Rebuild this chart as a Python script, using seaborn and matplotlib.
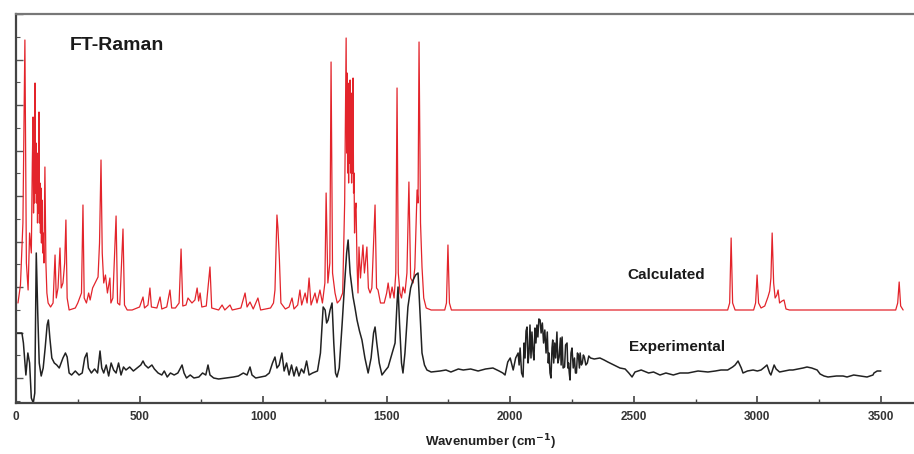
import numpy as np
import pandas as pd
import matplotlib
matplotlib.use("Agg")
import matplotlib.pyplot as plt
import matplotlib.ticker as ticker
import seaborn as sns

# espectro calculado: pares (cm-1, intensidade arbitraria)
calc_pts = [
    (8, 100), (18, 118), (28, 180), (36, 363), (42, 140), (49, 113), (55, 170), (62, 150),
    (66, 240), (69, 286), (71, 190), (73, 250), (75, 200), (77, 320), (79, 210), (81, 260),
    (83, 200), (85, 250), (87, 180), (89, 230), (91, 190), (93, 291), (95, 180), (97, 220),
    (99, 170), (101, 215), (103, 160), (105, 203), (108, 150), (110, 170), (113, 140),
    (117, 236), (121, 140), (125, 110), (130, 100), (140, 96), (150, 100), (158, 148),
    (163, 105), (170, 115), (178, 155), (183, 115), (190, 120), (197, 140), (202, 183),
    (207, 105), (215, 93), (240, 95), (250, 100), (265, 110), (271, 198), (276, 105),
    (285, 100), (294, 110), (300, 103), (310, 115), (320, 120), (332, 126), (338, 160),
    (344, 243), (349, 150), (355, 120), (362, 128), (370, 110), (380, 125), (384, 100),
    (392, 105), (405, 187), (411, 100), (420, 98), (433, 174), (439, 98), (450, 93),
    (470, 93), (490, 95), (500, 96), (514, 106), (520, 95), (534, 98), (542, 115), (548, 96),
    (570, 95), (583, 106), (590, 94), (610, 96), (623, 113), (630, 95), (645, 95), (660, 100),
    (668, 154), (675, 97), (688, 98), (696, 105), (712, 100), (724, 103), (733, 115),
    (739, 102), (745, 110), (752, 96), (770, 97), (785, 136), (792, 95), (820, 93), (834, 98),
    (845, 93), (866, 98), (875, 93), (910, 95), (927, 110), (935, 96), (947, 101), (960, 94),
    (979, 105), (990, 93), (1030, 95), (1042, 100), (1048, 113), (1056, 188), (1060, 175),
    (1066, 143), (1072, 100), (1090, 94), (1105, 96), (1117, 105), (1125, 94), (1140, 98),
    (1149, 113), (1156, 98), (1170, 110), (1178, 100), (1186, 125), (1194, 98), (1210, 110),
    (1218, 100), (1230, 113), (1240, 100), (1250, 120), (1255, 210), (1262, 120), (1270, 140),
    (1275, 341), (1281, 130), (1291, 110), (1300, 100), (1311, 103), (1322, 110), (1330, 200),
    (1336, 365), (1338, 250), (1340, 330), (1342, 230), (1344, 293), (1346, 220), (1348, 320),
    (1350, 240), (1352, 323), (1354, 230), (1356, 310), (1358, 220), (1360, 300), (1362, 230),
    (1364, 325), (1366, 210), (1368, 230), (1370, 170), (1372, 190), (1376, 200), (1380, 140),
    (1384, 110), (1388, 156), (1394, 125), (1404, 158), (1410, 130), (1420, 156), (1426, 115),
    (1433, 110), (1440, 115), (1453, 198), (1459, 115), (1465, 113), (1475, 100), (1490, 100),
    (1500, 110), (1506, 120), (1514, 105), (1522, 116), (1530, 105), (1537, 130), (1542, 315),
    (1547, 130), (1554, 110), (1560, 105), (1566, 116), (1574, 110), (1582, 130), (1590, 221),
    (1597, 125), (1607, 120), (1614, 135), (1619, 180), (1623, 213), (1627, 200), (1631, 361),
    (1637, 180), (1643, 136), (1650, 105), (1660, 95), (1680, 93), (1735, 93), (1742, 100),
    (1748, 158), (1754, 100), (1762, 93), (2880, 93), (2888, 100), (2894, 165), (2900, 100),
    (2910, 93), (2985, 93), (2993, 100), (2999, 128), (3005, 100), (3015, 95), (3030, 97),
    (3043, 106), (3050, 112), (3055, 125), (3060, 170), (3066, 120), (3072, 105), (3079, 108),
    (3084, 113), (3090, 100), (3100, 102), (3108, 103), (3116, 94), (3130, 93), (3560, 93),
    (3568, 100), (3574, 121), (3580, 97), (3590, 93),
]

# espectro experimental
exp_pts = [
    (0, 70), (24, 70), (30, 60), (40, 28), (48, 50), (55, 40), (62, 5), (70, 0), (76, 10),
    (82, 150), (88, 90), (94, 40), (102, 27), (110, 35), (118, 55), (126, 78), (131, 83),
    (137, 65), (145, 45), (155, 40), (165, 38), (175, 35), (190, 45), (200, 50), (207, 46),
    (215, 30), (225, 28), (240, 32), (255, 28), (268, 30), (278, 45), (287, 50), (293, 35),
    (305, 30), (318, 34), (330, 30), (340, 52), (347, 35), (355, 30), (365, 38), (375, 27),
    (385, 40), (395, 33), (405, 30), (415, 40), (425, 28), (435, 36), (445, 33), (460, 36),
    (475, 32), (490, 35), (505, 38), (514, 42), (522, 38), (535, 35), (550, 38), (560, 34),
    (575, 30), (590, 28), (600, 32), (612, 26), (625, 30), (640, 28), (655, 30), (672, 38),
    (680, 30), (690, 25), (705, 28), (720, 25), (740, 26), (755, 30), (768, 28), (777, 38),
    (785, 28), (800, 25), (820, 24), (850, 25), (880, 26), (900, 27), (920, 30), (935, 28),
    (947, 36), (955, 28), (970, 25), (990, 26), (1010, 27), (1025, 30), (1038, 40), (1048, 46),
    (1056, 35), (1065, 38), (1076, 50), (1085, 32), (1095, 40), (1105, 28), (1115, 38),
    (1125, 27), (1135, 36), (1145, 27), (1155, 34), (1165, 30), (1176, 42), (1186, 28),
    (1200, 30), (1220, 32), (1232, 50), (1243, 96), (1251, 93), (1257, 80), (1263, 83),
    (1271, 93), (1279, 100), (1286, 60), (1293, 30), (1299, 26), (1308, 35), (1320, 80),
    (1330, 120), (1338, 150), (1344, 163), (1352, 130), (1364, 106), (1372, 95), (1380, 83),
    (1390, 72), (1400, 63), (1412, 45), (1425, 30), (1437, 45), (1447, 70), (1453, 76),
    (1460, 60), (1470, 40), (1481, 28), (1493, 32), (1506, 36), (1520, 48), (1534, 60),
    (1542, 100), (1546, 116), (1552, 80), (1560, 40), (1566, 30), (1574, 50), (1586, 96),
    (1597, 115), (1607, 123), (1617, 128), (1627, 130), (1635, 90), (1643, 50), (1653, 38),
    (1663, 33), (1680, 31), (1716, 32), (1740, 33), (1760, 31), (1790, 34), (1810, 33),
    (1840, 34), (1870, 32), (1900, 34), (1930, 35), (1955, 32), (1970, 30), (1979, 28),
    (1990, 41), (2000, 45), (2012, 33), (2022, 45), (2032, 50), (2036, 38), (2040, 55),
    (2046, 30), (2052, 26), (2056, 60), (2060, 45), (2064, 72), (2068, 76), (2072, 40),
    (2076, 50), (2080, 78), (2084, 45), (2088, 71), (2092, 52), (2096, 43), (2100, 75),
    (2104, 60), (2108, 78), (2112, 66), (2116, 84), (2121, 83), (2125, 70), (2130, 80),
    (2135, 60), (2140, 73), (2145, 50), (2150, 71), (2154, 40), (2157, 50), (2161, 30),
    (2165, 25), (2169, 55), (2172, 63), (2176, 40), (2180, 60), (2184, 45), (2189, 71),
    (2193, 40), (2198, 46), (2203, 65), (2206, 38), (2210, 66), (2214, 35), (2220, 36),
    (2224, 58), (2230, 60), (2233, 35), (2236, 40), (2239, 30), (2242, 23), (2246, 50),
    (2250, 55), (2255, 35), (2260, 45), (2264, 30), (2268, 30), (2272, 50), (2276, 48),
    (2280, 35), (2283, 50), (2288, 38), (2292, 40), (2296, 48), (2300, 46), (2306, 38),
    (2312, 40), (2318, 47), (2325, 45), (2340, 44), (2363, 45), (2380, 43), (2395, 41),
    (2420, 38), (2444, 35), (2465, 34), (2480, 30), (2493, 26), (2505, 31), (2530, 33),
    (2560, 30), (2580, 31), (2606, 28), (2630, 30), (2660, 28), (2687, 30), (2720, 30),
    (2760, 32), (2800, 31), (2830, 32), (2853, 33), (2880, 33), (2900, 36), (2910, 38),
    (2922, 42), (2935, 35), (2942, 30), (2960, 32), (2983, 33), (3000, 32), (3015, 33),
    (3030, 36), (3039, 38), (3050, 30), (3055, 28), (3068, 38), (3076, 34), (3090, 31),
    (3110, 32), (3130, 33), (3144, 33), (3165, 34), (3185, 35), (3201, 36), (3220, 35),
    (3242, 33), (3254, 29), (3270, 27), (3286, 26), (3320, 27), (3347, 27), (3363, 26),
    (3390, 28), (3416, 27), (3444, 26), (3468, 28), (3472, 30), (3485, 32), (3500, 32),
]

x_ticks = [0, 500, 1000, 1500, 2000, 2500, 3000, 3500]

df_calc = pd.DataFrame(calc_pts, columns=["wn", "intensidade"])
df_exp = pd.DataFrame(exp_pts, columns=["wn", "intensidade"])

sns.set_theme(style="ticks")
plt.rcParams["font.family"] = ["Liberation Sans", "DejaVu Sans"]

fig = plt.figure(figsize=(9.14, 4.54), dpi=100)
ax = fig.add_axes([16 / 914, 51 / 454, 898 / 914, 389 / 454])

sns.lineplot(data=df_calc, x="wn", y="intensidade", ax=ax, color="#e3242b",
             linewidth=0.9, estimator=None, sort=False)
sns.lineplot(data=df_exp, x="wn", y="intensidade", ax=ax, color="#222222",
             linewidth=1.1, estimator=None, sort=False)

ax.set_xlim(0, 3634)
ax.set_ylim(0, 389)

# eixos no estilo origin: ticks pra dentro, sem rotulo no y
ax.xaxis.set_major_locator(ticker.FixedLocator(x_ticks))
ax.xaxis.set_minor_locator(ticker.MultipleLocator(250))
ax.yaxis.set_major_locator(ticker.MultipleLocator(45.5, offset=25))
ax.yaxis.set_minor_locator(ticker.MultipleLocator(45.5, offset=2.25))
ax.tick_params(axis="x", which="major", direction="in", length=5, width=1.2,
               colors="#444444", labelsize=8.5, pad=6)
ax.tick_params(axis="x", which="minor", direction="in", length=3, width=1, colors="#444444")
ax.tick_params(axis="y", which="major", direction="in", length=5, width=1, colors="#555555",
               labelleft=False)
ax.tick_params(axis="y", which="minor", direction="in", length=3, width=0.8, colors="#555555")
for lbl in ax.get_xticklabels():
    lbl.set_fontweight("bold")
    lbl.set_color("#333333")

for lado in ["left", "bottom", "top"]:
    ax.spines[lado].set_linewidth(1.6)
    ax.spines[lado].set_color("#444444")
ax.spines["top"].set_color("#777777")
ax.spines["right"].set_visible(False)

ax.set_ylabel("")
ax.set_xlabel("Wavenumber (cm$^{\\mathbf{-1}}$)", fontsize=9.5, fontweight="bold", color="#222222")
ax.xaxis.set_label_coords((490 - 16) / 898, -0.075)

ax.text(219, 358, "FT-Raman", fontsize=14, fontweight="bold", color="#1a1a1a", va="center")
ax.text(2473, 128, "Calculated", fontsize=11, fontweight="bold", color="#1a1a1a", va="center")
ax.text(2481, 56, "Experimental", fontsize=11, fontweight="bold", color="#1a1a1a", va="center")

fig.savefig("out.png", dpi=100)
